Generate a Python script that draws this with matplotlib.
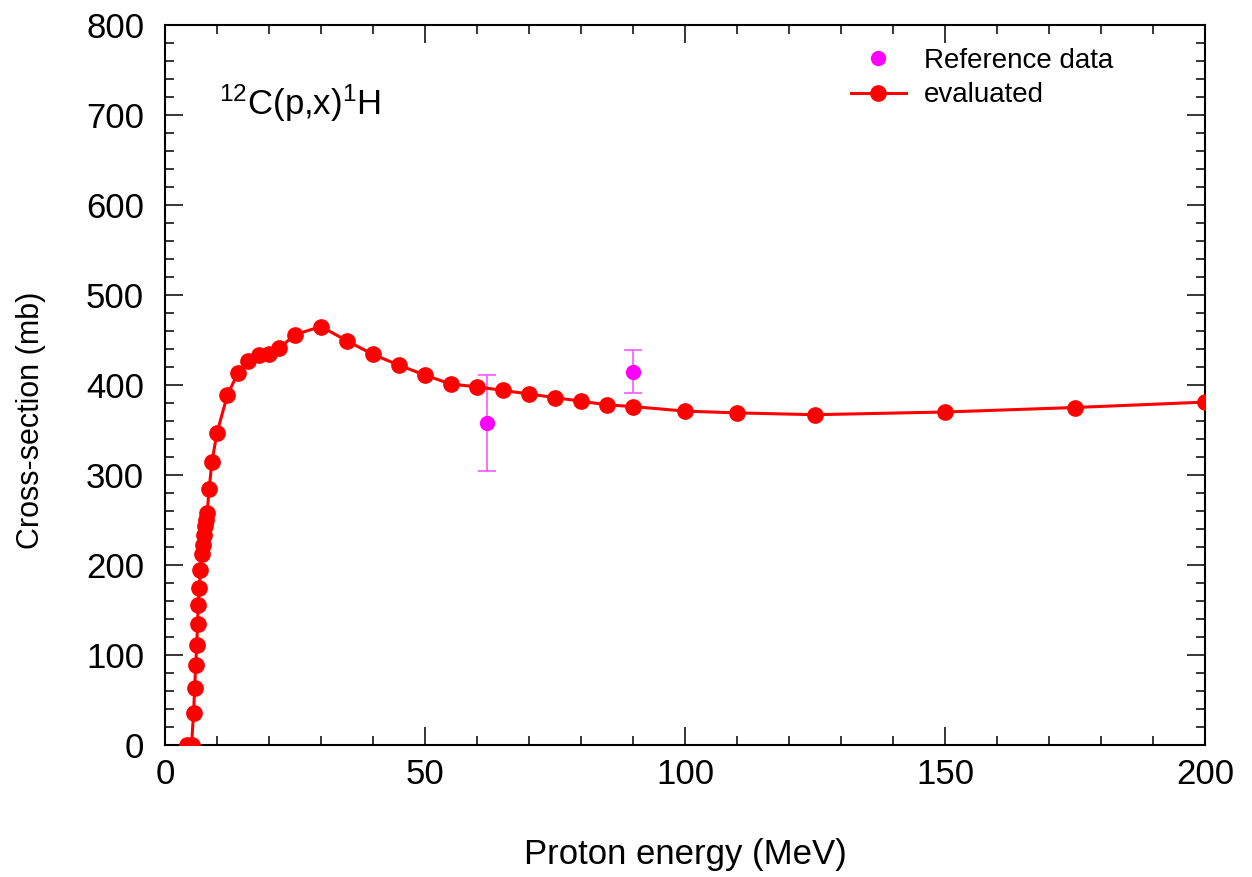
import numpy as np
import matplotlib
matplotlib.use("Agg")
import matplotlib.pyplot as plt
from matplotlib.ticker import MultipleLocator
from matplotlib.lines import Line2D

plt.rcParams['font.family'] = ['Liberation Sans', 'DejaVu Sans']
plt.rcParams['mathtext.fontset'] = 'custom'
plt.rcParams['mathtext.rm'] = 'Liberation Sans'
plt.rcParams['mathtext.it'] = 'Liberation Sans:italic'

# --- evaluated cross-section ---
energy = [4.2, 5.1, 5.5, 5.7, 5.9, 6.1, 6.25, 6.4, 6.6, 6.8,
          7.1, 7.3, 7.5, 7.7, 7.9, 8.1, 8.5, 9.0, 10, 12,
          14, 16, 18, 20, 22, 25, 30, 35, 40, 45,
          50, 55, 60, 65, 70, 75, 80, 85, 90, 100,
          110, 125, 150, 175, 200]
xs_eval = [0, 0, 36, 63, 89, 111, 134, 156, 175, 194,
           212, 222, 233, 243, 250, 258, 285, 314, 347, 389,
           413, 427, 433, 435, 441, 456, 465, 449, 434, 422,
           411, 401, 398, 394, 390, 386, 382, 378, 376, 371,
           369, 367, 370, 375, 381]

# --- reference data points with errors ---
ref_energy = [62, 90]
ref_xs = [358, 415]
ref_err = [53, 24]

fig = plt.figure(figsize=(12.52, 8.77), dpi=100)
ax = fig.add_axes([0.1318, 0.1505, 0.8306, 0.8210])

ax.errorbar(ref_energy, ref_xs, yerr=ref_err, fmt='o', color='#ff00ff',
            ecolor='#ff55ff', elinewidth=1.2, capsize=6.5, capthick=1.2,
            markersize=10, zorder=3)
ax.plot(energy, xs_eval, '-o', color='#ff0000', linewidth=2.2,
        markersize=11, zorder=4)

ax.set_xlim(0, 200)
ax.set_ylim(0, 800)
ax.xaxis.set_major_locator(MultipleLocator(50))
ax.xaxis.set_minor_locator(MultipleLocator(10))
ax.yaxis.set_major_locator(MultipleLocator(100))
ax.yaxis.set_minor_locator(MultipleLocator(20))
ax.tick_params(which='both', direction='in', top=True, right=True,
               labelsize=25, width=1.1, colors='black')
ax.tick_params(which='major', length=13)
ax.tick_params(axis='x', which='major', pad=9)
ax.tick_params(axis='y', which='major', pad=15)
ax.tick_params(which='minor', length=6.5)
for sp in ax.spines.values():
    sp.set_linewidth(1.5)

ax.set_xlabel('Proton energy (MeV)', fontsize=25)
ax.xaxis.set_label_coords(0.5, -0.129)
ax.set_ylabel('Cross-section (mb)', fontsize=22)
ax.yaxis.set_label_coords(-0.114, 0.451)

ax.text(0.052, 0.891, r'$^{12}$C(p,x)$^{1}$H', transform=ax.transAxes,
        fontsize=25, va='center', ha='left')

handles = [Line2D([], [], color='#ff00ff', marker='o', linestyle='none', markersize=10),
           Line2D([], [], color='#ff0000', marker='o', linewidth=2.2, markersize=11)]
ax.legend(handles, ['Reference data', 'evaluated'], loc='upper left',
          frameon=False, fontsize=20, bbox_to_anchor=(0.66, 0.968),
          handlelength=1.95, handletextpad=0.65, labelspacing=0.3,
          borderaxespad=0, borderpad=0)

fig.savefig('out.png', dpi=100)
